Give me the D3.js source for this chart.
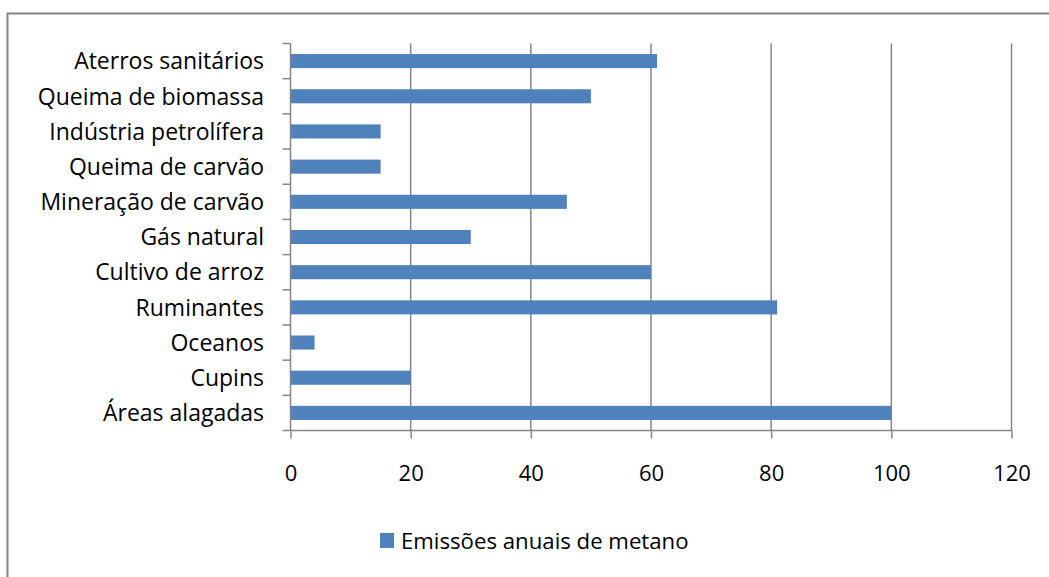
<!DOCTYPE html>
<html>
<head>
<meta charset="utf-8">
<script src="https://cdn.jsdelivr.net/npm/d3@7/dist/d3.min.js"></script>
<style>
  html, body { margin: 0; padding: 0; background: #fff; }
  svg { display: block; }
  text { font-family: "Open Sans", Lato, sans-serif; fill: #000; }
</style>
</head>
<body>
<svg id="chart" width="1049" height="577"></svg>
<script>
// Sources of methane, top to bottom as drawn
const categories = [
  "Aterros sanitários",
  "Queima de biomassa",
  "Indústria petrolífera",
  "Queima de carvão",
  "Mineração de carvão",
  "Gás natural",
  "Cultivo de arroz",
  "Ruminantes",
  "Oceanos",
  "Cupins",
  "Áreas alagadas"
];
const emissions = [61, 50, 15, 15, 46, 30, 60, 81, 4, 20, 100];
const xTicks = [0, 20, 40, 60, 80, 100, 120];
const seriesName = "Emissões anuais de metano";

const W = 1049, H = 577;
const plot = { left: 290.5, right: 1011.5, top: 43.5, bottom: 430.5 };
const barColor = "#4F81BD";
const gridColor = "#868686";
const labelSize = 23;
const tickSize = 22;
const legendSize = 22.2;

const svg = d3.select("#chart");

// chart frame (right and bottom edges fall outside the view)
svg.append("path")
  .attr("d", `M7.5,${H + 5} V13.5 H${W + 5}`)
  .attr("fill", "none")
  .attr("stroke", gridColor)
  .attr("stroke-width", 2);

const x = d3.scaleLinear().domain([0, 120]).range([plot.left, plot.right]);
const y = d3.scaleBand().domain(categories).range([plot.top, plot.bottom])
  .paddingInner(0.6).paddingOuter(0.3);

// vertical gridlines
svg.append("g")
  .selectAll("line")
  .data(xTicks.slice(1))
  .join("line")
  .attr("x1", d => x(d)).attr("x2", d => x(d))
  .attr("y1", plot.top).attr("y2", plot.bottom)
  .attr("stroke", gridColor).attr("stroke-width", 1.5);

// bars
svg.append("g")
  .selectAll("rect")
  .data(categories)
  .join("rect")
  .attr("x", x(0))
  .attr("y", (d) => y(d))
  .attr("width", (d, i) => x(emissions[i]) - x(0))
  .attr("height", y.bandwidth())
  .attr("fill", barColor);

// x axis
const xAxis = d3.axisBottom(x).tickValues(xTicks).tickSize(8).tickPadding(27)
  .tickFormat(d3.format("d"));
const gx = svg.append("g").attr("transform", `translate(0,${plot.bottom})`).call(xAxis);
gx.select(".domain").attr("stroke", gridColor).attr("stroke-width", 1.5)
  .attr("d", `M${plot.left},0H${plot.right}`);
gx.selectAll(".tick line").attr("stroke", gridColor).attr("stroke-width", 1.5);
gx.selectAll(".tick text").style("font-family", "'Open Sans', sans-serif")
  .attr("font-size", tickSize).attr("fill", "#000");

// y axis: ticks sit on category boundaries
const step = (plot.bottom - plot.top) / categories.length;
const gy = svg.append("g");
gy.append("line")
  .attr("x1", plot.left).attr("x2", plot.left)
  .attr("y1", plot.top).attr("y2", plot.bottom)
  .attr("stroke", gridColor).attr("stroke-width", 1.5);
gy.selectAll("line.tk")
  .data(d3.range(categories.length + 1))
  .join("line").attr("class", "tk")
  .attr("x1", plot.left - 8).attr("x2", plot.left)
  .attr("y1", i => plot.top + i * step).attr("y2", i => plot.top + i * step)
  .attr("stroke", gridColor).attr("stroke-width", 1.5);
gy.selectAll("text")
  .data(categories)
  .join("text")
  .attr("x", 264)
  .attr("y", d => y(d) + y.bandwidth() / 2)
  .attr("dy", "0.36em")
  .attr("text-anchor", "end")
  .attr("font-size", labelSize)
  .text(d => d);

// legend
const lg = svg.append("g").attr("transform", "translate(380,533)");
lg.append("rect").attr("width", 14).attr("height", 15).attr("fill", barColor);
lg.append("text").attr("x", 21).attr("y", 15.5).attr("font-size", legendSize).text(seriesName);
</script>
</body>
</html>
